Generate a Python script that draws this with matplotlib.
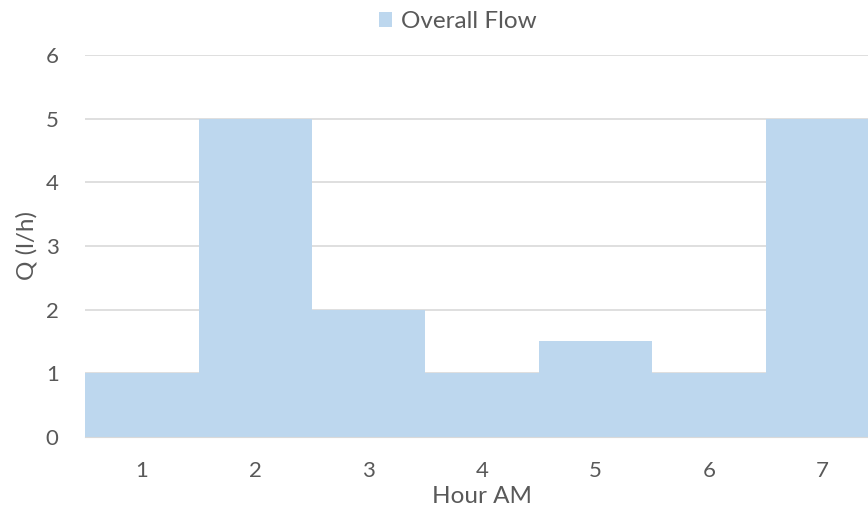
import matplotlib

matplotlib.use("Agg")
import matplotlib.pyplot as plt
from matplotlib.patches import Patch

hours = [1, 2, 3, 4, 5, 6, 7]
flow = [1, 5, 2, 1, 1.5, 1, 5]

BAR = "#bdd7ee"
GRID = "#d9d9d9"
TEXT = "#595959"

plt.rcParams["font.family"] = ["Lato", "DejaVu Sans"]

fig = plt.figure(figsize=(8.68, 5.09), dpi=100)
# the plot area runs slightly past the right edge of the figure
ax = fig.add_axes([0.098, 0.1415, 0.915, 0.7505])

ax.bar(hours, flow, width=1.0, color=BAR, linewidth=0, zorder=2)

ax.set_xlim(0.5, 7.5)
ax.set_ylim(0, 6)
ax.set_yticks(range(0, 7))
ax.set_xticks(hours)
ax.grid(axis="y", color=GRID, linewidth=1.2, zorder=0)
ax.set_axisbelow(True)

for name, spine in ax.spines.items():
    spine.set_visible(name == "bottom")
ax.spines["bottom"].set_color(GRID)
ax.tick_params(length=0, labelsize=16, colors=TEXT)
ax.tick_params(axis="x", pad=17)
ax.tick_params(axis="y", pad=19)

ax.set_xlabel("Hour AM", fontsize=17.5, color=TEXT, labelpad=4)
ax.set_ylabel("Q (l/h)", fontsize=17.5, color=TEXT, labelpad=6)

fig.legend(
    handles=[Patch(facecolor=BAR, edgecolor="none", label="Overall Flow")],
    loc="center", bbox_to_anchor=(0.527, 0.957), frameon=False,
    fontsize=17.5, labelcolor=TEXT, handlelength=0.55, handleheight=0.55,
    handletextpad=0.35,
)

fig.savefig("out.png", dpi=100, facecolor="white")
